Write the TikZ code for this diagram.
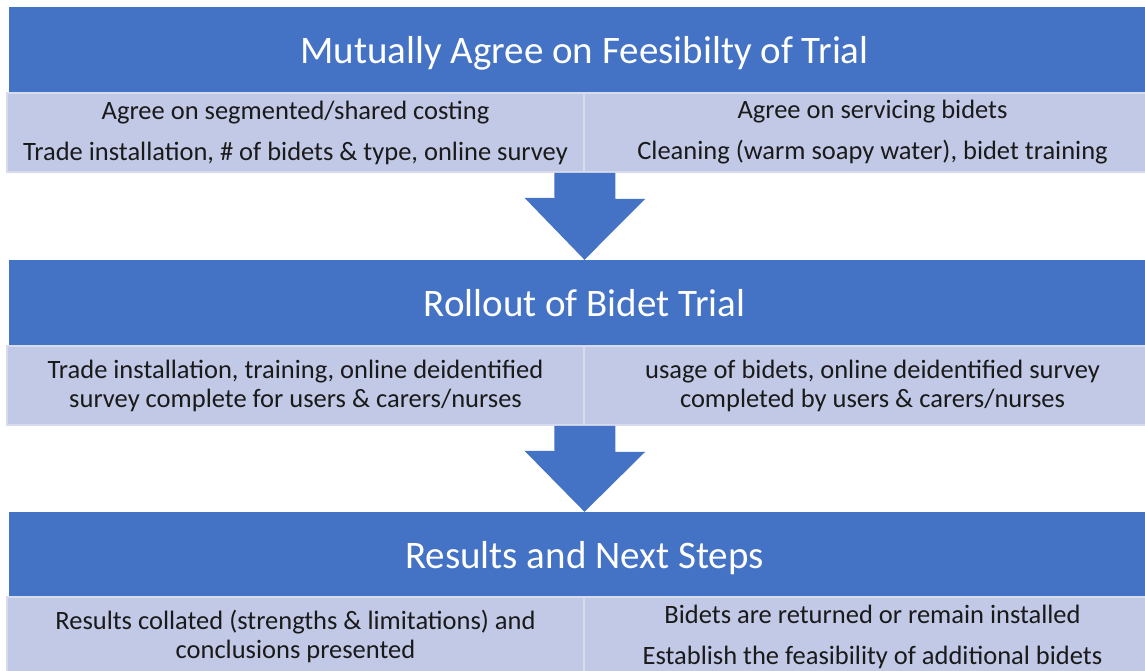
\documentclass[tikz,border=0pt]{standalone}
\usepackage{fontspec}
\setmainfont{Carlito}
\definecolor{hblue}{HTML}{4472C4}
\definecolor{cellbg}{HTML}{C1C9E6}
\definecolor{cellline}{HTML}{D6DBEE}
\definecolor{txt}{HTML}{1A1A1A}
\tikzset{
  hdr/.style={fill=hblue, draw=none, minimum width=1151pt, minimum height=86pt, inner sep=0pt, text=white, text height=30pt, text depth=4pt, font=\fontsize{39}{44}\selectfont},
  cellbox/.style={fill=cellbg, draw=cellline, line width=1.5pt, minimum width=577pt, minimum height=79pt, inner sep=0pt, text=txt, align=center, font=\fontsize{26.5}{29}\selectfont},
  blockarrow/.style={fill=hblue, draw=none}
}
\begin{document}
\begin{tikzpicture}[x=1pt,y=-1pt]
\useasboundingbox (0,0) rectangle (1145,670);
\clip (0,0) rectangle (1145,670);
\fill[white] (0,0) rectangle (1145,670);
% row 1
\node[hdr] (h1) at (584.5,50) {Mutually Agree on Feesibilty of Trial};
\node[cellbox] (c1l) at (295.5,132.5) {Agree on segmented/shared costing\\[12pt]Trade installation, \# of bidets \& type, online survey};
\node[cellbox] (c1r) at (872.5,132.5) {Agree on servicing bidets\\[12pt]Cleaning (warm soapy water), bidet training};
% row 2
\node[hdr] (h2) at (584.5,303) {Rollout of Bidet Trial};
\node[cellbox] (c2l) at (295.5,385.5) {Trade installation, training, online deidentified\\survey complete for users \& carers/nurses};
\node[cellbox] (c2r) at (872.5,385.5) {usage of bidets, online deidentified survey\\completed by users \& carers/nurses};
% row 3
\node[hdr] (h3) at (584.5,555) {Results and Next Steps};
\node[cellbox] (c3l) at (295.5,636.5) {Results collated (strengths \& limitations) and\\conclusions presented};
\node[cellbox] (c3r) at (872.5,636.5) {Bidets are returned or remain installed\\[12pt]Establish the feasibility of additional bidets};
% arrows
\fill[blockarrow] ([xshift=-30.5pt]c1l.south east) -- ([xshift=30.5pt]c1l.south east) -- ++(0,26) -- ++(30,0) -- (h2.north) -- ++(-60,-62) -- ++(30,0) -- cycle;
\fill[blockarrow] ([xshift=-30.5pt]c2l.south east) -- ([xshift=30.5pt]c2l.south east) -- ++(0,26) -- ++(30,0) -- (h3.north) -- ++(-60,-61) -- ++(30,0) -- cycle;
\end{tikzpicture}
\end{document}
